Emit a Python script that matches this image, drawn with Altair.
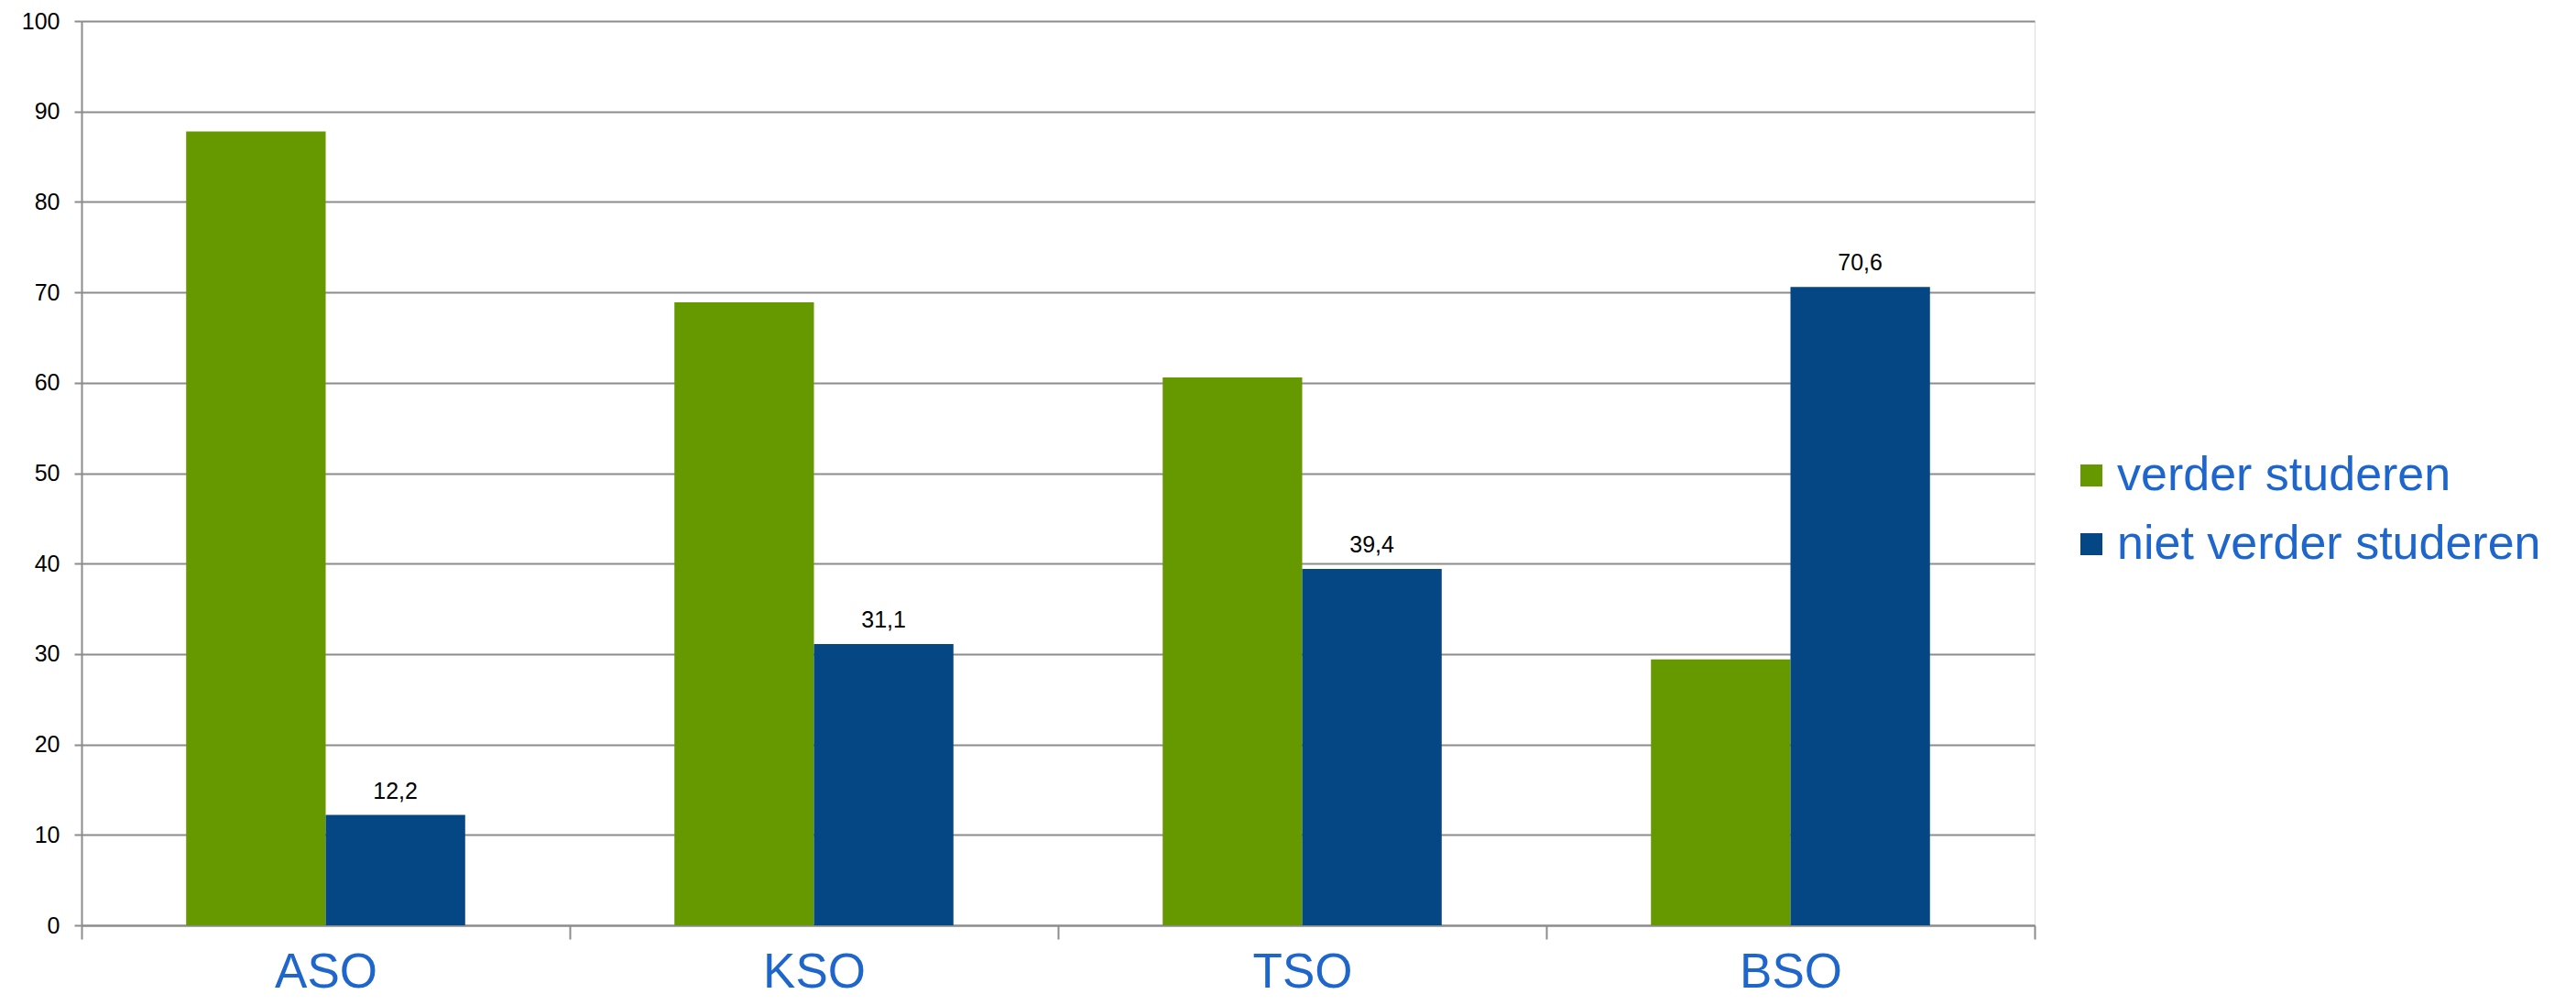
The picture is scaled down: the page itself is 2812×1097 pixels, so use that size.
import altair as alt
import pandas as pd

categories = ["ASO", "KSO", "TSO", "BSO"]
series = ["verder studeren", "niet verder studeren"]
verder = [87.8, 68.9, 60.6, 29.4]
niet_verder = [12.2, 31.1, 39.4, 70.6]
colors = ["#669900", "#044784"]

rows = []
for i, c in enumerate(categories):
    rows.append({"cat": c, "serie": series[0], "v": verder[i], "lab": ""})
    rows.append({"cat": c, "serie": series[1], "v": niet_verder[i],
                 "lab": f"{niet_verder[i]:.1f}".replace(".", ",")})
df = pd.DataFrame(rows)

FONT = "Liberation Sans"
GRID = "#8c8c8c"
BLUE_TXT = "#1f66cc"

x = alt.X("cat:N", sort=categories, title=None,
          scale=alt.Scale(paddingInner=0, paddingOuter=0),
          axis=alt.Axis(labelAngle=0, labelFontSize=53, labelColor=BLUE_TXT,
                        labelFont=FONT, labelPadding=10, tickSize=15,
                        tickColor=GRID, tickWidth=2, domainColor=GRID,
                        domainWidth=2, tickBand="extent", grid=False))
xo = alt.XOffset("serie:N", sort=series,
                 scale=alt.Scale(paddingOuter=0.75, paddingInner=0))
y = alt.Y("v:Q", title=None,
          scale=alt.Scale(domain=[0, 100], nice=False),
          axis=alt.Axis(values=list(range(0, 101, 10)), labelFontSize=25,
                        labelColor="#000000", labelFont=FONT, labelPadding=16,
                        tickSize=8, tickColor=GRID, tickWidth=2,
                        domainColor=GRID, domainWidth=2, gridColor=GRID,
                        gridWidth=2, gridOpacity=1))

bars = alt.Chart(df).mark_bar().encode(
    x=x, xOffset=xo, y=y,
    color=alt.Color("serie:N", sort=series,
                    scale=alt.Scale(domain=series, range=colors),
                    legend=alt.Legend(title=None, orient="none",
                                      legendX=2168, legendY=470,
                                      labelFontSize=52, labelColor=BLUE_TXT,
                                      labelFont=FONT, labelLimit=0,
                                      symbolType="square",
                                      symbolSize=576, symbolStrokeWidth=0,
                                      rowPadding=23, labelOffset=2,
                                      symbolOpacity=1)),
)

text = alt.Chart(df).mark_text(fontSize=25, font=FONT, color="#000000",
                               baseline="alphabetic", dy=-18).encode(
    x=alt.X("cat:N", sort=categories), xOffset=xo, y="v:Q", text="lab:N")

chart = alt.layer(bars, text).properties(
    width=2132, height=987,
    autosize=alt.AutoSizeParams(type="none"),
    padding={"left": 81, "top": 15, "right": 583, "bottom": 78},
).configure_view(stroke=None).configure(background="white")

chart.save("out.html", embed_options={"renderer": "svg", "actions": False})
